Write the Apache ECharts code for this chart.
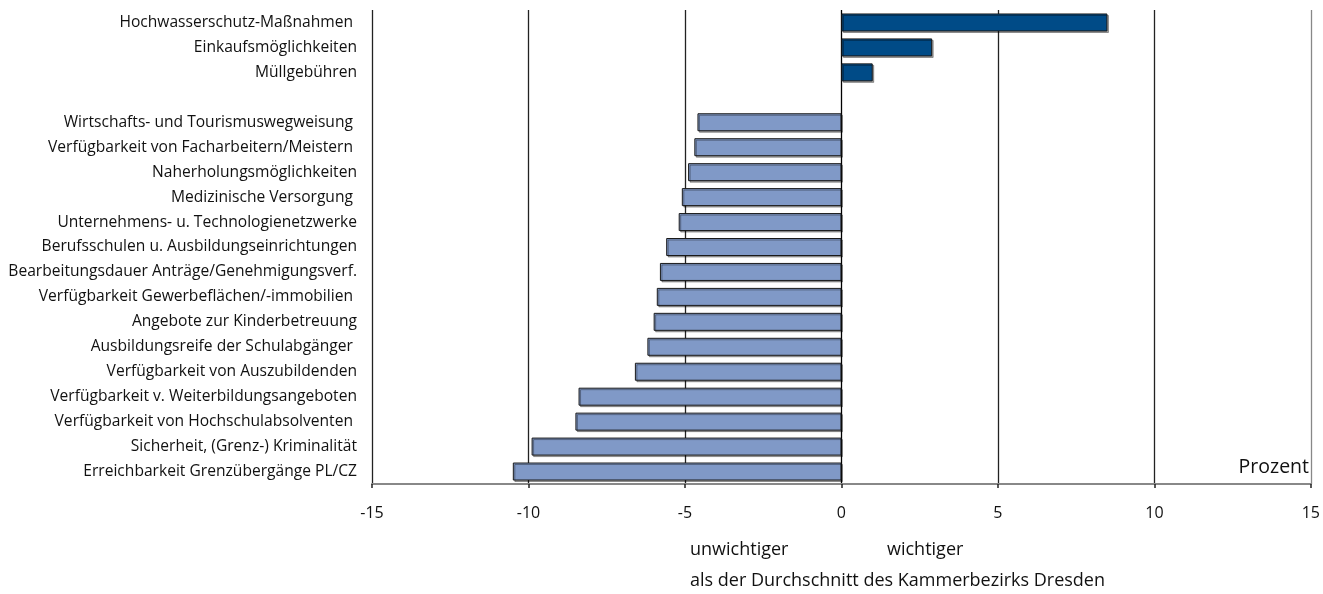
<!DOCTYPE html>
<html>
<head>
<meta charset="utf-8">
<script src="https://cdn.jsdelivr.net/npm/echarts@6/dist/echarts.min.js"></script>
<style>
html,body{margin:0;padding:0;background:#fff;}
#chart{width:1323px;height:594px;}
</style>
</head>
<body>
<div id="chart"></div>
<script>
// Data
const topCategories = ['Hochwasserschutz-Maßnahmen ', 'Einkaufsmöglichkeiten', 'Müllgebühren'];
const topValues = [8.5, 2.9, 1.0];
const gapCategory = [''];
const bottomCategories = [
  'Wirtschafts- und Tourismuswegweisung ',
  'Verfügbarkeit von Facharbeitern/Meistern ',
  'Naherholungsmöglichkeiten',
  'Medizinische Versorgung ',
  'Unternehmens- u. Technologienetzwerke',
  'Berufsschulen u. Ausbildungseinrichtungen',
  'Bearbeitungsdauer Anträge/Genehmigungsverf.',
  'Verfügbarkeit Gewerbeflächen/-immobilien ',
  'Angebote zur Kinderbetreuung',
  'Ausbildungsreife der Schulabgänger ',
  'Verfügbarkeit von Auszubildenden',
  'Verfügbarkeit v. Weiterbildungsangeboten',
  'Verfügbarkeit von Hochschulabsolventen ',
  'Sicherheit, (Grenz-) Kriminalität',
  'Erreichbarkeit Grenzübergänge PL/CZ'
];
const bottomValues = [-4.6, -4.7, -4.9, -5.1, -5.2, -5.6, -5.8, -5.9, -6.0, -6.2, -6.6, -8.4, -8.5, -9.9, -10.5];
const xTicks = [-15, -10, -5, 0, 5, 10, 15];

const DARK = '#004b87';
const LIGHT = '#8099c7';

const categories = topCategories.concat(gapCategory, bottomCategories);
const seriesData = []
  .concat(topValues.map(v => ({ value: v, itemStyle: { color: DARK } })))
  .concat([{ value: null }])
  .concat(bottomValues.map(v => ({ value: v, itemStyle: { color: LIGHT } })));

const FONT = '"Open Sans", "DejaVu Sans", sans-serif';
const chart = echarts.init(document.getElementById('chart'), null, { renderer: 'canvas' });
chart.setOption({
  animation: false,
  backgroundColor: '#fff',
  grid: { left: 372, right: 9, top: 10, height: 474, containLabel: false },
  xAxis: {
    type: 'value',
    min: xTicks[0],
    max: xTicks[xTicks.length - 1],
    interval: 5,
    axisLine: { show: true, onZero: false, lineStyle: { color: '#888', width: 2 } },
    axisTick: { show: true, length: 4, lineStyle: { color: '#222', width: 1.5 } },
    axisLabel: { color: '#111', fontSize: 16, fontFamily: FONT, margin: 21 },
    splitLine: {
      show: true,
      showMinLine: true,
      showMaxLine: true,
      lineStyle: { color: ['#222', '#222', '#222', '#000', '#222', '#222', '#888'], width: 1.3 }
    }
  },
  yAxis: {
    type: 'category',
    data: categories,
    inverse: true,
    axisLine: { show: false },
    axisTick: { show: false },
    axisLabel: { color: '#111', fontSize: 15.6, fontFamily: FONT, margin: 15 },
    splitLine: { show: false }
  },
  series: [{
    type: 'bar',
    data: seriesData,
    barWidth: 18,
    itemStyle: {
      borderColor: '#1a1a1a',
      borderWidth: 1,
      shadowColor: 'rgba(0,0,0,0.35)',
      shadowOffsetX: 1.5,
      shadowOffsetY: 1.5,
      shadowBlur: 0
    }
  }],
  graphic: [
    { type: 'text', right: 14, top: 457, style: { text: 'Prozent', fill: '#111', font: '19.5px ' + FONT } },
    { type: 'text', left: 690, top: 541, style: { text: 'unwichtiger', fill: '#111', font: '18px ' + FONT } },
    { type: 'text', left: 887, top: 541, style: { text: 'wichtiger', fill: '#111', font: '18px ' + FONT } },
    { type: 'text', left: 690, top: 572, style: { text: 'als der Durchschnitt des Kammerbezirks Dresden', fill: '#111', font: '18px ' + FONT } }
  ]
});
</script>
</body>
</html>
